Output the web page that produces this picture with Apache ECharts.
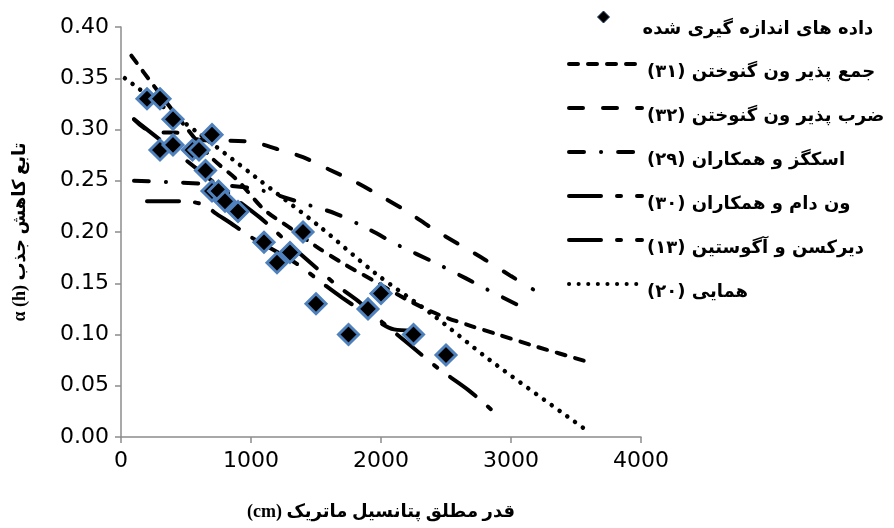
<!DOCTYPE html>
<html>
<head>
    <meta charset="utf-8">
    <title>تابع کاهش جذب</title>
    <script src="https://cdn.jsdelivr.net/npm/echarts@6/dist/echarts.min.js"></script>
    <style>
        html, body { margin: 0; padding: 0; background: #fff; }
        #chart { width: 894px; height: 528px; }
    </style>
</head>
<body>
<div id="chart"></div>
<script type="text/javascript">

    // داده های اندازه گیری شده
    var measX = [200, 300, 400, 300, 400, 550, 600, 700, 650, 700, 750, 800, 900, 1100, 1200, 1300, 1400, 1500, 1750, 1900, 2000, 2250, 2500];
    var measY = [0.33, 0.33, 0.31, 0.28, 0.285, 0.28, 0.28, 0.295, 0.26, 0.24, 0.24, 0.23, 0.22, 0.19, 0.17, 0.18, 0.20, 0.13, 0.10, 0.125, 0.14, 0.10, 0.08];

    // model curves [x, alpha]
    var line31 = [[80, 0.372], [250, 0.343], [500, 0.302], [700, 0.272], [900, 0.25], [1100, 0.222], [1300, 0.204], [1500, 0.186], [1700, 0.17], [1950, 0.152], [2200, 0.134], [2450, 0.119], [2700, 0.108], [2900, 0.1], [3200, 0.088], [3600, 0.073]];
    var line32 = [[100, 0.31], [250, 0.297], [415, 0.297], [600, 0.29], [1000, 0.288], [1200, 0.281], [1400, 0.273], [1600, 0.261], [1800, 0.249], [2000, 0.235], [2200, 0.22], [2400, 0.203], [2600, 0.188], [2800, 0.173], [3000, 0.157], [3170, 0.144]];
    var line29 = [[100, 0.25], [650, 0.247], [1000, 0.243], [1100, 0.24], [1400, 0.228], [1650, 0.218], [1900, 0.203], [2150, 0.186], [2400, 0.171], [2650, 0.155], [2800, 0.145], [3050, 0.129]];
    var line30 = [[100, 0.31], [300, 0.29], [500, 0.27], [800, 0.24], [1070, 0.214], [1350, 0.182], [1660, 0.148], [1840, 0.131], [2010, 0.112], [2220, 0.09], [2450, 0.066], [2670, 0.046], [2900, 0.021]];
    var line13 = [[200, 0.23], [490, 0.23], [650, 0.226], [720, 0.219], [840, 0.209], [1000, 0.195], [1340, 0.17], [1570, 0.148], [1700, 0.136], [1915, 0.118], [2100, 0.105], [2240, 0.104]];
    var line20 = [[30, 0.35], [600, 0.296], [1031, 0.254], [1531, 0.205], [1954, 0.16], [2400, 0.119], [2838, 0.075], [3577, 0.007]];

    var xTicks = [0, 4000, 1000];
    var yTicks = [0, 0.4, 0.05];

    var nameMeas = 'داده های اندازه گیری شده';
    var name31 = '(۳۱) جمع پذیر ون گنوختن';
    var name32 = '(۳۲) ضرب پذیر ون گنوختن';
    var name29 = '(۲۹) اسکگز و همکاران';
    var name30 = '(۳۰) ون دام و همکاران';
    var name13 = '(۱۳) دیرکسن و آگوستین';
    var name20 = '(۲۰) همایی';

    var myChart = echarts.init(document.getElementById('chart'));

    function curve(name, pts, dash, w) {
        return {
            name: name,
            type: 'line',
            data: pts,
            smooth: 0.3,
            symbol: 'none',
            z: 2,
            lineStyle: {
                color: '#000',
                width: w || 4,
                type: dash,
                cap: 'round'
            },
            itemStyle: { color: '#000' }
        };
    }

    var axisColor = '#8c8c8c';

    // legend text sits a little below its sample, done with an empty first line
    function lowered(n) { return '\n' + n; }

    myChart.setOption({
        animation: false,
        backgroundColor: '#fff',
        grid: {
            left: 121,
            right: 253,
            top: 27,
            bottom: 91
        },
        legend: [
            {
                orient: 'vertical',
                left: 597,
                top: -7,
                padding: 0,
                itemWidth: 12,
                itemHeight: 12,
                data: [{ name: nameMeas, icon: 'diamond', itemStyle: { color: '#000', borderColor: '#1f3a60', borderWidth: 1 } }],
                formatter: lowered,
                textStyle: {
                    fontFamily: 'DejaVu Sans',
                    fontWeight: 'bold',
                    fontSize: 18,
                    lineHeight: 24,
                    color: '#000',
                    padding: [0, 0, 0, 28]
                }
            },
            {
                orient: 'vertical',
                left: 567,
                top: 47,
                padding: 0,
                itemWidth: 73,
                itemHeight: 14,
                itemGap: 10,
                data: [name31, name32, name29, name30, name13, name20],
                formatter: lowered,
                itemStyle: { color: 'rgba(0,0,0,0)', borderColor: 'rgba(0,0,0,0)', borderWidth: 0, opacity: 0 },
                lineStyle: { width: 4, cap: 'round' },
                textStyle: {
                    fontFamily: 'DejaVu Sans',
                    fontWeight: 'bold',
                    fontSize: 18,
                    lineHeight: 16,
                    color: '#000'
                }
            }
        ],
        xAxis: {
            type: 'value',
            min: xTicks[0],
            max: xTicks[1],
            interval: xTicks[2],
            name: '(cm) قدر مطلق پتانسیل ماتریک',
            nameLocation: 'middle',
            nameGap: 66,
            nameTextStyle: {
                fontFamily: 'Liberation Serif, DejaVu Sans',
                fontWeight: 'bold',
                fontSize: 18,
                color: '#000'
            },
            axisLine: { lineStyle: { color: axisColor, width: 1.5 } },
            axisTick: { show: true, length: 6, lineStyle: { color: axisColor, width: 1.5 } },
            axisLabel: {
                fontFamily: 'DejaVu Sans',
                fontSize: 22,
                color: '#000',
                margin: 13,
                formatter: function (v) { return String(v); }
            },
            splitLine: { show: false }
        },
        yAxis: {
            type: 'value',
            min: yTicks[0],
            max: yTicks[1],
            interval: yTicks[2],
            name: 'α (h) تابع کاهش جذب',
            nameLocation: 'middle',
            nameGap: 92,
            nameTextStyle: {
                fontFamily: 'Liberation Serif, DejaVu Sans',
                fontWeight: 'bold',
                fontSize: 18,
                color: '#000'
            },
            axisLine: { show: true, lineStyle: { color: axisColor, width: 1.5 } },
            axisTick: { show: true, length: 6, lineStyle: { color: axisColor, width: 1.5 } },
            axisLabel: {
                fontFamily: 'DejaVu Sans',
                fontSize: 22,
                color: '#000',
                margin: 12,
                formatter: function (v) { return v.toFixed(2); }
            },
            splitLine: { show: false }
        },
        series: [
            curve(name31, line31, [9, 10]),
            curve(name32, line32, [14, 20]),
            curve(name29, line29, [15, 17, 0.1, 17]),
            curve(name30, line30, [32, 16, 4, 16]),
            curve(name13, line13, [32, 16, 4, 16]),
            curve(name20, line20, [0.1, 9.5], 4.5),
            {
                name: nameMeas,
                type: 'scatter',
                data: measX.map(function (x, i) { return [x, measY[i]]; }),
                symbol: 'diamond',
                symbolSize: 20,
                z: 5,
                itemStyle: {
                    color: '#000',
                    borderColor: '#4f81bd',
                    borderWidth: 3,
                    opacity: 1
                }
            }
        ]
    });

</script>
</body>
</html>
